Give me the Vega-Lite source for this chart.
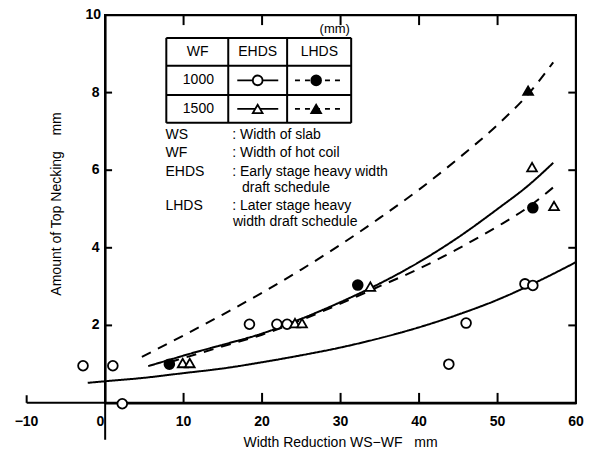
{
  "$schema": "https://vega.github.io/schema/vega-lite/v6.json",
  "width": 471,
  "height": 388,
  "autosize": {"type": "none"},
  "padding": {"top": 15, "left": 105, "right": 22, "bottom": 47},
  "background": "white",
  "config": {"view": {"stroke": "black", "strokeWidth": 2}},
  "data": {"values": [
      {"part": "axis", "x": -9.98, "y": 0.004, "x2": 59.98, "y2": 0.004},
      {"part": "axis", "x": 0.02, "y": -0.95, "x2": 0.02, "y2": 9.996},
      {"part": "axis", "x": 0.02, "y": 9.996, "x2": 59.98, "y2": 9.996},
      {"part": "axis", "x": 59.98, "y": 0.004, "x2": 59.98, "y2": 9.996},
      {"part": "axis", "x": -9.98, "y": 0.004, "x2": -9.98, "y2": 0.2},
      {"part": "axis", "x": 0.02, "y": 2, "x2": 0.9, "y2": 2},
      {"part": "axis", "x": 0.02, "y": 4, "x2": 0.9, "y2": 4},
      {"part": "axis", "x": 0.02, "y": 6, "x2": 0.9, "y2": 6},
      {"part": "axis", "x": 0.02, "y": 8, "x2": 0.9, "y2": 8},
      {"part": "axis", "x": 59.02, "y": 2, "x2": 59.98, "y2": 2},
      {"part": "axis", "x": 59.02, "y": 4, "x2": 59.98, "y2": 4},
      {"part": "axis", "x": 59.02, "y": 6, "x2": 59.98, "y2": 6},
      {"part": "axis", "x": 59.02, "y": 8, "x2": 59.98, "y2": 8},
      {"part": "axis", "x": 10.01, "y": 9.996, "x2": 10.01, "y2": 9.74},
      {"part": "axis", "x": 20.01, "y": 9.996, "x2": 20.01, "y2": 9.74},
      {"part": "axis", "x": 30.01, "y": 9.996, "x2": 30.01, "y2": 9.74},
      {"part": "axis", "x": 40.01, "y": 9.996, "x2": 40.01, "y2": 9.74},
      {"part": "axis", "x": 50.01, "y": 9.996, "x2": 50.01, "y2": 9.74},
      {"part": "axis", "x": 10.01, "y": 0.004, "x2": 10.01, "y2": 0.26},
      {"part": "axis", "x": 20.01, "y": 0.004, "x2": 20.01, "y2": 0.26},
      {"part": "axis", "x": 30.01, "y": 0.004, "x2": 30.01, "y2": 0.26},
      {"part": "axis", "x": 40.01, "y": 0.004, "x2": 40.01, "y2": 0.26},
      {"part": "axis", "x": 50.01, "y": 0.004, "x2": 50.01, "y2": 0.26},
      {"part": "table", "x": 7.81, "y": 9.41, "x2": 31.36, "y2": 9.41},
      {"part": "table", "x": 7.81, "y": 8.69, "x2": 31.36, "y2": 8.69},
      {"part": "table", "x": 7.81, "y": 7.94, "x2": 31.36, "y2": 7.94},
      {"part": "table", "x": 7.81, "y": 7.22, "x2": 31.36, "y2": 7.22},
      {"part": "table", "x": 7.81, "y": 7.22, "x2": 7.81, "y2": 9.41},
      {"part": "table", "x": 15.7, "y": 7.22, "x2": 15.7, "y2": 9.41},
      {"part": "table", "x": 23.2, "y": 7.22, "x2": 23.2, "y2": 9.41},
      {"part": "table", "x": 31.36, "y": 7.22, "x2": 31.36, "y2": 9.41}
  ]},
  "encoding": {
    "x": {"field": "x", "type": "quantitative", "scale": {"domain": [0, 60], "nice": false, "zero": false},
      "axis": {"domain": true, "domainColor": "black", "domainWidth": 2, "labels": false, "ticks": false, "grid": false, "title": null}},
    "y": {"field": "y", "type": "quantitative", "scale": {"domain": [0, 10], "nice": false, "zero": false},
      "axis": {"domain": true, "domainColor": "black", "domainWidth": 2, "labels": false, "ticks": false, "grid": false, "title": null}}
  },
  "layer": [
    {
      "mark": {"type": "rule", "color": "black", "strokeWidth": 2},
      "encoding": {"x2": {"field": "x2"}, "y2": {"field": "y2"}}
    },
    {
      "data": {"values": [
        {"curve": "EHDS 1000", "schedule": "EHDS", "x": -2.2, "y": 0.52},
        {"curve": "EHDS 1000", "schedule": "EHDS", "x": 0, "y": 0.56},
        {"curve": "EHDS 1000", "schedule": "EHDS", "x": 5, "y": 0.65},
        {"curve": "EHDS 1000", "schedule": "EHDS", "x": 10, "y": 0.77},
        {"curve": "EHDS 1000", "schedule": "EHDS", "x": 15, "y": 0.89},
        {"curve": "EHDS 1000", "schedule": "EHDS", "x": 20, "y": 1.05},
        {"curve": "EHDS 1000", "schedule": "EHDS", "x": 25, "y": 1.23},
        {"curve": "EHDS 1000", "schedule": "EHDS", "x": 30, "y": 1.43},
        {"curve": "EHDS 1000", "schedule": "EHDS", "x": 35, "y": 1.67},
        {"curve": "EHDS 1000", "schedule": "EHDS", "x": 40, "y": 1.95},
        {"curve": "EHDS 1000", "schedule": "EHDS", "x": 45, "y": 2.28},
        {"curve": "EHDS 1000", "schedule": "EHDS", "x": 50, "y": 2.66},
        {"curve": "EHDS 1000", "schedule": "EHDS", "x": 55, "y": 3.12},
        {"curve": "EHDS 1000", "schedule": "EHDS", "x": 60, "y": 3.63},
        {"curve": "EHDS 1500", "schedule": "EHDS", "x": 5.5, "y": 0.95},
        {"curve": "EHDS 1500", "schedule": "EHDS", "x": 8, "y": 1.1},
        {"curve": "EHDS 1500", "schedule": "EHDS", "x": 11, "y": 1.28},
        {"curve": "EHDS 1500", "schedule": "EHDS", "x": 15, "y": 1.5},
        {"curve": "EHDS 1500", "schedule": "EHDS", "x": 20, "y": 1.79},
        {"curve": "EHDS 1500", "schedule": "EHDS", "x": 25, "y": 2.17},
        {"curve": "EHDS 1500", "schedule": "EHDS", "x": 30, "y": 2.6},
        {"curve": "EHDS 1500", "schedule": "EHDS", "x": 35, "y": 3.08},
        {"curve": "EHDS 1500", "schedule": "EHDS", "x": 40, "y": 3.63},
        {"curve": "EHDS 1500", "schedule": "EHDS", "x": 45, "y": 4.27},
        {"curve": "EHDS 1500", "schedule": "EHDS", "x": 50, "y": 5.0},
        {"curve": "EHDS 1500", "schedule": "EHDS", "x": 54, "y": 5.62},
        {"curve": "EHDS 1500", "schedule": "EHDS", "x": 57.1, "y": 6.19},
        {"curve": "LHDS 1000", "schedule": "LHDS", "x": 8.2, "y": 1.05},
        {"curve": "LHDS 1000", "schedule": "LHDS", "x": 15, "y": 1.46},
        {"curve": "LHDS 1000", "schedule": "LHDS", "x": 20, "y": 1.76},
        {"curve": "LHDS 1000", "schedule": "LHDS", "x": 25, "y": 2.14},
        {"curve": "LHDS 1000", "schedule": "LHDS", "x": 30, "y": 2.56},
        {"curve": "LHDS 1000", "schedule": "LHDS", "x": 35, "y": 3.01},
        {"curve": "LHDS 1000", "schedule": "LHDS", "x": 40, "y": 3.46},
        {"curve": "LHDS 1000", "schedule": "LHDS", "x": 45, "y": 3.98},
        {"curve": "LHDS 1000", "schedule": "LHDS", "x": 50, "y": 4.55},
        {"curve": "LHDS 1000", "schedule": "LHDS", "x": 54, "y": 5.06},
        {"curve": "LHDS 1000", "schedule": "LHDS", "x": 57.7, "y": 5.66},
        {"curve": "LHDS 1500", "schedule": "LHDS", "x": 4.7, "y": 1.19},
        {"curve": "LHDS 1500", "schedule": "LHDS", "x": 10, "y": 1.74},
        {"curve": "LHDS 1500", "schedule": "LHDS", "x": 15, "y": 2.28},
        {"curve": "LHDS 1500", "schedule": "LHDS", "x": 20, "y": 2.84},
        {"curve": "LHDS 1500", "schedule": "LHDS", "x": 25, "y": 3.44},
        {"curve": "LHDS 1500", "schedule": "LHDS", "x": 30, "y": 4.08},
        {"curve": "LHDS 1500", "schedule": "LHDS", "x": 35, "y": 4.77},
        {"curve": "LHDS 1500", "schedule": "LHDS", "x": 40, "y": 5.5},
        {"curve": "LHDS 1500", "schedule": "LHDS", "x": 45, "y": 6.3},
        {"curve": "LHDS 1500", "schedule": "LHDS", "x": 50, "y": 7.17},
        {"curve": "LHDS 1500", "schedule": "LHDS", "x": 54, "y": 7.98},
        {"curve": "LHDS 1500", "schedule": "LHDS", "x": 57.1, "y": 8.78}
      ]},
      "mark": {"type": "line", "color": "black", "strokeWidth": 2, "interpolate": "monotone"},
      "encoding": {
        "detail": {"field": "curve"},
        "strokeDash": {"field": "schedule", "type": "nominal", "scale": {"domain": ["EHDS", "LHDS"], "range": [[1, 0], [10, 8]]}, "legend": null}
      }
    },
    {
      "data": {"values": [
        {"wf": "1000", "x": 16.85, "y": 8.315},
        {"wf": "1000", "x": 22.07, "y": 8.315},
        {"wf": "1500", "x": 16.85, "y": 7.58},
        {"wf": "1500", "x": 22.07, "y": 7.58}
      ]},
      "mark": {"type": "line", "color": "black", "strokeWidth": 1.8},
      "encoding": {"detail": {"field": "wf"}}
    },
    {
      "data": {"values": [
        {"wf": "1000", "x": 24.2, "y": 8.315},
        {"wf": "1000", "x": 30.1, "y": 8.315},
        {"wf": "1500", "x": 24.2, "y": 7.58},
        {"wf": "1500", "x": 30.1, "y": 7.58}
      ]},
      "mark": {"type": "line", "color": "black", "strokeWidth": 1.8, "strokeDash": [5, 5]},
      "encoding": {"detail": {"field": "wf"}}
    },
    {
      "data": {"values": [
        {"wf": "1000", "schedule": "EHDS", "x": -2.8, "y": 0.96},
        {"wf": "1000", "schedule": "EHDS", "x": 1.0, "y": 0.96},
        {"wf": "1000", "schedule": "EHDS", "x": 2.2, "y": -0.02},
        {"wf": "1000", "schedule": "EHDS", "x": 18.4, "y": 2.03},
        {"wf": "1000", "schedule": "EHDS", "x": 21.9, "y": 2.03},
        {"wf": "1000", "schedule": "EHDS", "x": 23.2, "y": 2.03},
        {"wf": "1000", "schedule": "EHDS", "x": 43.8, "y": 1.0},
        {"wf": "1000", "schedule": "EHDS", "x": 46.0, "y": 2.06},
        {"wf": "1000", "schedule": "EHDS", "x": 53.5, "y": 3.07},
        {"wf": "1000", "schedule": "EHDS", "x": 54.5, "y": 3.03},
        {"wf": "1500", "schedule": "EHDS", "x": 9.9, "y": 1.03},
        {"wf": "1500", "schedule": "EHDS", "x": 10.8, "y": 1.03},
        {"wf": "1500", "schedule": "EHDS", "x": 24.2, "y": 2.06},
        {"wf": "1500", "schedule": "EHDS", "x": 25.1, "y": 2.06},
        {"wf": "1500", "schedule": "EHDS", "x": 33.8, "y": 3.0},
        {"wf": "1500", "schedule": "EHDS", "x": 54.4, "y": 6.08},
        {"wf": "1500", "schedule": "EHDS", "x": 57.2, "y": 5.08},
        {"wf": "1000", "schedule": "LHDS", "x": 8.2, "y": 1.0},
        {"wf": "1000", "schedule": "LHDS", "x": 32.2, "y": 3.04},
        {"wf": "1000", "schedule": "LHDS", "x": 54.5, "y": 5.03},
        {"wf": "1500", "schedule": "LHDS", "x": 53.9, "y": 8.05},
        {"wf": "1000", "schedule": "EHDS", "x": 19.45, "y": 8.315},
        {"wf": "1500", "schedule": "EHDS", "x": 19.45, "y": 7.58},
        {"wf": "1000", "schedule": "LHDS", "x": 26.9, "y": 8.315},
        {"wf": "1500", "schedule": "LHDS", "x": 26.9, "y": 7.58}
      ]},
      "mark": {"type": "point", "filled": false, "stroke": "black", "strokeWidth": 1.8, "size": 95, "opacity": 1},
      "encoding": {
        "shape": {"field": "wf", "type": "nominal", "scale": {"domain": ["1000", "1500"], "range": ["circle", "triangle-up"]}, "legend": null},
        "fill": {"field": "schedule", "type": "nominal", "scale": {"domain": ["EHDS", "LHDS"], "range": ["white", "black"]}, "legend": null}
      }
    },
    {
      "data": {"values": [
        {"x": -10, "y": -0.48, "text": "\u221210"},
        {"x": -0.6, "y": -0.48, "text": "0"},
        {"x": 10, "y": -0.48, "text": "10"},
        {"x": 20, "y": -0.48, "text": "20"},
        {"x": 30, "y": -0.48, "text": "30"},
        {"x": 40, "y": -0.48, "text": "40"},
        {"x": 50, "y": -0.48, "text": "50"},
        {"x": 60, "y": -0.48, "text": "60"}
      ]},
      "mark": {"type": "text", "align": "center", "baseline": "middle", "fontSize": 14, "fontWeight": "bold", "color": "black", "font": "Liberation Sans"},
      "encoding": {"text": {"field": "text"}}
    },
    {
      "data": {"values": [
        {"x": -0.7, "y": 2, "text": "2"},
        {"x": -0.7, "y": 4, "text": "4"},
        {"x": -0.7, "y": 6, "text": "6"},
        {"x": -0.7, "y": 8, "text": "8"},
        {"x": -0.5, "y": 10, "text": "10"}
      ]},
      "mark": {"type": "text", "align": "right", "baseline": "middle", "fontSize": 14, "fontWeight": "bold", "color": "black", "font": "Liberation Sans"},
      "encoding": {"text": {"field": "text"}}
    },
    {
      "data": {"values": [
        {"x": 30, "y": -1.02, "text": "Width Reduction WS\u2212WF\u00a0\u00a0\u00a0mm"}
      ]},
      "mark": {"type": "text", "align": "center", "baseline": "middle", "fontSize": 14, "color": "black", "font": "Liberation Sans"},
      "encoding": {"text": {"field": "text"}}
    },
    {
      "data": {"values": [
        {"x": -6.1, "y": 5.13, "text": "Amount of Top Necking\u00a0\u00a0\u00a0\u00a0mm"}
      ]},
      "mark": {"type": "text", "align": "center", "baseline": "middle", "angle": 270, "fontSize": 14, "color": "black", "font": "Liberation Sans"},
      "encoding": {"text": {"field": "text"}}
    },
    {
      "data": {"values": [
        {"x": 11.8, "y": 9.05, "text": "WF"},
        {"x": 19.45, "y": 9.05, "text": "EHDS"},
        {"x": 27.3, "y": 9.05, "text": "LHDS"},
        {"x": 11.9, "y": 8.315, "text": "1000"},
        {"x": 11.9, "y": 7.58, "text": "1500"}
      ]},
      "mark": {"type": "text", "align": "center", "baseline": "middle", "fontSize": 14, "color": "black", "font": "Liberation Sans"},
      "encoding": {
        "text": {"field": "text"},
        "fontWeight": {"condition": {"test": "datum.text === 'WF'", "value": "bold"}, "value": "normal"}
      }
    },
    {
      "data": {"values": [
        {"x": 7.7, "y": 6.91, "text": "WS"},
        {"x": 7.7, "y": 6.44, "text": "WF"},
        {"x": 7.7, "y": 5.95, "text": "EHDS"},
        {"x": 7.7, "y": 5.08, "text": "LHDS"},
        {"x": 16.2, "y": 6.91, "text": ": Width of slab"},
        {"x": 16.2, "y": 6.44, "text": ": Width of hot coil"},
        {"x": 16.2, "y": 5.95, "text": ": Early stage heavy width"},
        {"x": 17.45, "y": 5.54, "text": "draft schedule"},
        {"x": 16.2, "y": 5.08, "text": ": Later stage heavy"},
        {"x": 16.3, "y": 4.66, "text": "width draft schedule"}
      ]},
      "mark": {"type": "text", "align": "left", "baseline": "middle", "fontSize": 14, "color": "black", "font": "Liberation Sans"},
      "encoding": {"text": {"field": "text"}}
    },
    {
      "data": {"values": [
        {"x": 31.2, "y": 9.64, "text": "(mm)"}
      ]},
      "mark": {"type": "text", "align": "right", "baseline": "middle", "fontSize": 13, "color": "black", "font": "Liberation Sans"},
      "encoding": {"text": {"field": "text"}}
    }
  ]
}
